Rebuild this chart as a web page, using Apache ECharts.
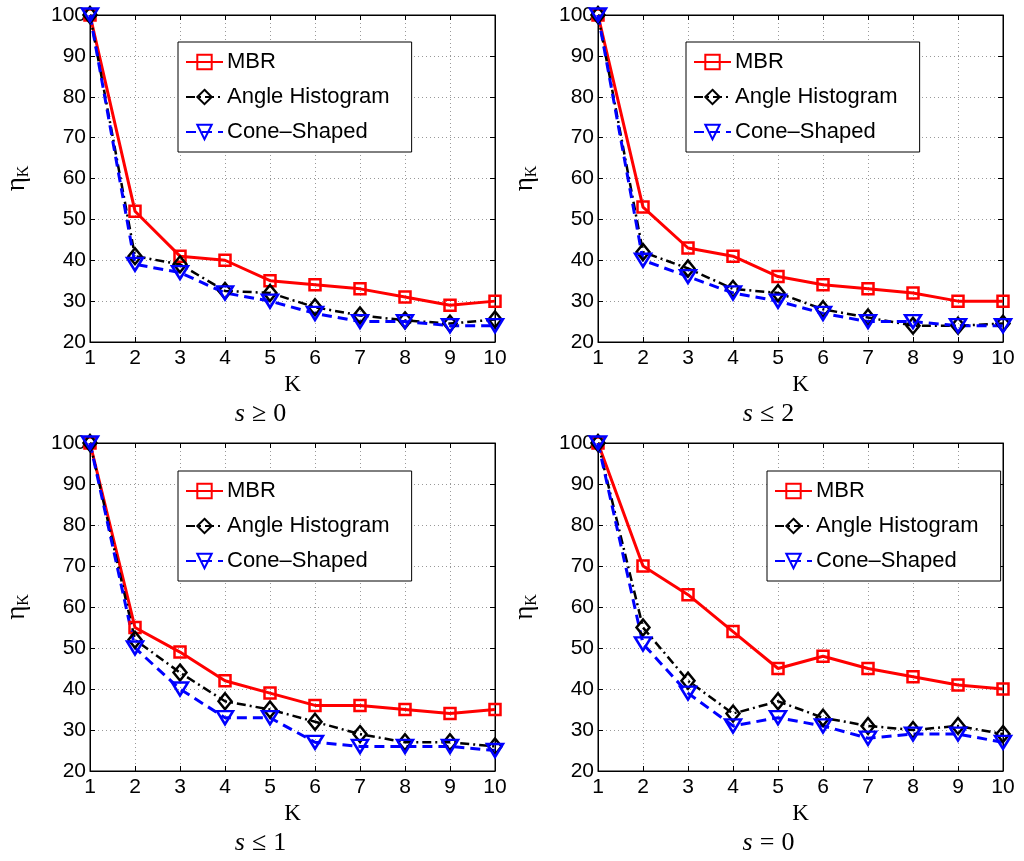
<!DOCTYPE html>
<html>
<head>
<meta charset="utf-8">
<script src="https://cdn.jsdelivr.net/npm/echarts@6/dist/echarts.min.js"></script>
<style>html,body{margin:0;padding:0;background:#fff}#c{width:1024px;height:861px}</style>
</head>
<body>
<div id="c"></div>
<script>
// ---- data ----
const K = [1, 2, 3, 4, 5, 6, 7, 8, 9, 10];
const yTicks = [20, 30, 40, 50, 60, 70, 80, 90, 100];
const seriesNames = ['MBR', 'Angle Histogram', 'Cone\u2013Shaped'];
const panelTitleVar = ['s', 's', 's', 's'];
const panelTitleRel = ['\u2265', '\u2264', '\u2264', '='];
const panelTitleNum = ['0', '2', '1', '0'];

const mbrS0 = [100, 52, 41, 40, 35, 34, 33, 31, 29, 30];
const angleS0 = [100, 41, 39, 32.5, 32, 28.5, 26.5, 25.3, 24.5, 25.5];
const coneS0 = [100, 39, 37, 32, 30, 27, 25, 25, 24, 24];

const mbrS2 = [100, 53, 43, 41, 36, 34, 33, 32, 30, 30];
const angleS2 = [100, 42, 38, 33, 32, 28, 26, 24, 24, 24.5];
const coneS2 = [100, 40, 36, 32, 30, 27, 25, 25, 24, 24];

const mbrS1 = [100, 55, 49, 42, 39, 36, 36, 35, 34, 35];
const angleS1 = [100, 52, 44, 37, 35, 32, 29, 27, 27, 26];
const coneS1 = [100, 50, 40, 33, 33, 27, 26, 26, 26, 25];

const mbrEq0 = [100, 70, 63, 54, 45, 48, 45, 43, 41, 40];
const angleEq0 = [100, 55, 42, 34, 37, 33, 31, 30, 31, 29];
const coneEq0 = [100, 51, 39, 31, 33, 31, 28, 29, 29, 27];

const panels = [
  [mbrS0, angleS0, coneS0],
  [mbrS2, angleS2, coneS2],
  [mbrS1, angleS1, coneS1],
  [mbrEq0, angleEq0, coneEq0]
];

// ---- layout ----
const grids = [
  {left: 90, top: 15, width: 405, height: 327},
  {left: 598, top: 15, width: 405, height: 327},
  {left: 90, top: 443, width: 405, height: 328},
  {left: 598, top: 443, width: 405, height: 328}
];
const legendPos = [
  {left: 178, top: 42},
  {left: 686, top: 42},
  {left: 178, top: 471},
  {left: 767, top: 471}
];

const tickFont = 'Liberation Sans, Arial, sans-serif';
const serifFont = 'Liberation Serif, DejaVu Serif, serif';

const styles = [
  {color: '#ff0000', line: {type: 'solid', width: 3}, symbol: 'rect', size: 11, rotate: 0},
  {color: '#000000', line: {type: [9, 4, 2, 4], width: 2.5}, symbol: 'diamond', size: [13, 16], rotate: 0},
  {color: '#0000ff', line: {type: [10, 6], width: 3}, symbol: 'triangle', size: [16, 13], rotate: 180}
];

const option = {
  animation: false,
  backgroundColor: '#fff',
  grid: [], xAxis: [], yAxis: [], series: [], legend: [], graphic: []
};

grids.forEach((g, i) => {
  option.grid.push(Object.assign({show: true, borderColor: '#000', borderWidth: 1, backgroundColor: '#fff'}, g));
  const xBase = {
    type: 'value', gridIndex: i, min: 1, max: 10, interval: 1,
    axisLine: {show: true, onZero: false, lineStyle: {color: '#000', width: 1}},
    axisTick: {show: true, inside: true, length: 5, lineStyle: {color: '#000'}}
  };
  option.xAxis.push(Object.assign({}, xBase, {
    position: 'bottom',
    axisLabel: {color: '#000', fontSize: 21, fontFamily: tickFont, margin: 6},
    splitLine: {show: true, lineStyle: {color: '#999', type: [1, 3], width: 1}},
    name: 'K', nameLocation: 'middle', nameGap: 31,
    nameTextStyle: {color: '#000', fontSize: 23, fontFamily: serifFont}
  }));
  option.xAxis.push(Object.assign({}, xBase, {
    position: 'top', axisLabel: {show: false}, splitLine: {show: false}
  }));
  const yBase = {
    type: 'value', gridIndex: i, min: yTicks[0], max: yTicks[yTicks.length - 1], interval: 10,
    axisLine: {show: true, onZero: false, lineStyle: {color: '#000', width: 1}},
    axisTick: {show: true, inside: true, length: 5, lineStyle: {color: '#000'}}
  };
  option.yAxis.push(Object.assign({}, yBase, {
    position: 'left',
    axisLabel: {color: '#000', fontSize: 21, fontFamily: tickFont, margin: 4},
    splitLine: {show: true, lineStyle: {color: '#999', type: [1, 3], width: 1}},
    name: '{e|\u03b7}{k|K}', nameLocation: 'middle', nameGap: 58, nameRotate: 90,
    nameTextStyle: {
      color: '#000', fontFamily: serifFont,
      rich: {
        e: {fontSize: 27, fontFamily: serifFont, color: '#000', lineHeight: 30, verticalAlign: 'middle'},
        k: {fontSize: 16, fontFamily: serifFont, color: '#000', lineHeight: 30, verticalAlign: 'bottom', padding: [10, 0, 0, 0]}
      }
    }
  }));
  option.yAxis.push(Object.assign({}, yBase, {
    position: 'right', axisLabel: {show: false}, splitLine: {show: false}
  }));

  panels[i].forEach((vals, s) => {
    const st = styles[s];
    option.series.push({
      name: seriesNames[s], type: 'line',
      xAxisIndex: i * 2, yAxisIndex: i * 2,
      data: K.map((k, j) => [k, vals[j]]),
      symbol: st.symbol, symbolSize: st.size, symbolRotate: st.rotate,
      showAllSymbol: true, clip: false,
      lineStyle: {color: st.color, type: st.line.type, width: st.line.width},
      itemStyle: {color: 'rgba(255,255,255,0)', borderColor: st.color, borderWidth: 2.5},
      emphasis: {disabled: true}
    });
  });

  option.legend.push(Object.assign({
    orient: 'vertical', data: seriesNames,
    backgroundColor: '#fff', borderColor: '#000', borderWidth: 1,
    padding: [9, 22, 9, 7], itemGap: 13, itemWidth: 37, itemHeight: 18,
    textStyle: {fontSize: 22, fontFamily: tickFont, color: '#000', padding: [0, 0, 0, -1]},
    selectedMode: false
  }, legendPos[i]));

  const cx = g.left + g.width / 2 - 32;
  option.graphic.push({
    type: 'text', x: cx, y: g.top + g.height + 72,
    style: {
      text: '{i|' + panelTitleVar[i] + '}{r|' + panelTitleRel[i] + '}{n|' + panelTitleNum[i] + '}',
      align: 'center', verticalAlign: 'middle',
      font: '26px ' + serifFont, fill: '#000',
      rich: {
        i: {fontStyle: 'italic', fontSize: 26, fontFamily: serifFont, fill: '#000'},
        r: {fontSize: 26, fontFamily: serifFont, fill: '#000', padding: [0, 7, 0, 7]},
        n: {fontSize: 26, fontFamily: serifFont, fill: '#000'}
      }
    }
  });
});

const chart = echarts.init(document.getElementById('c'), null, {renderer: 'canvas'});
chart.setOption(option);
</script>
</body>
</html>
